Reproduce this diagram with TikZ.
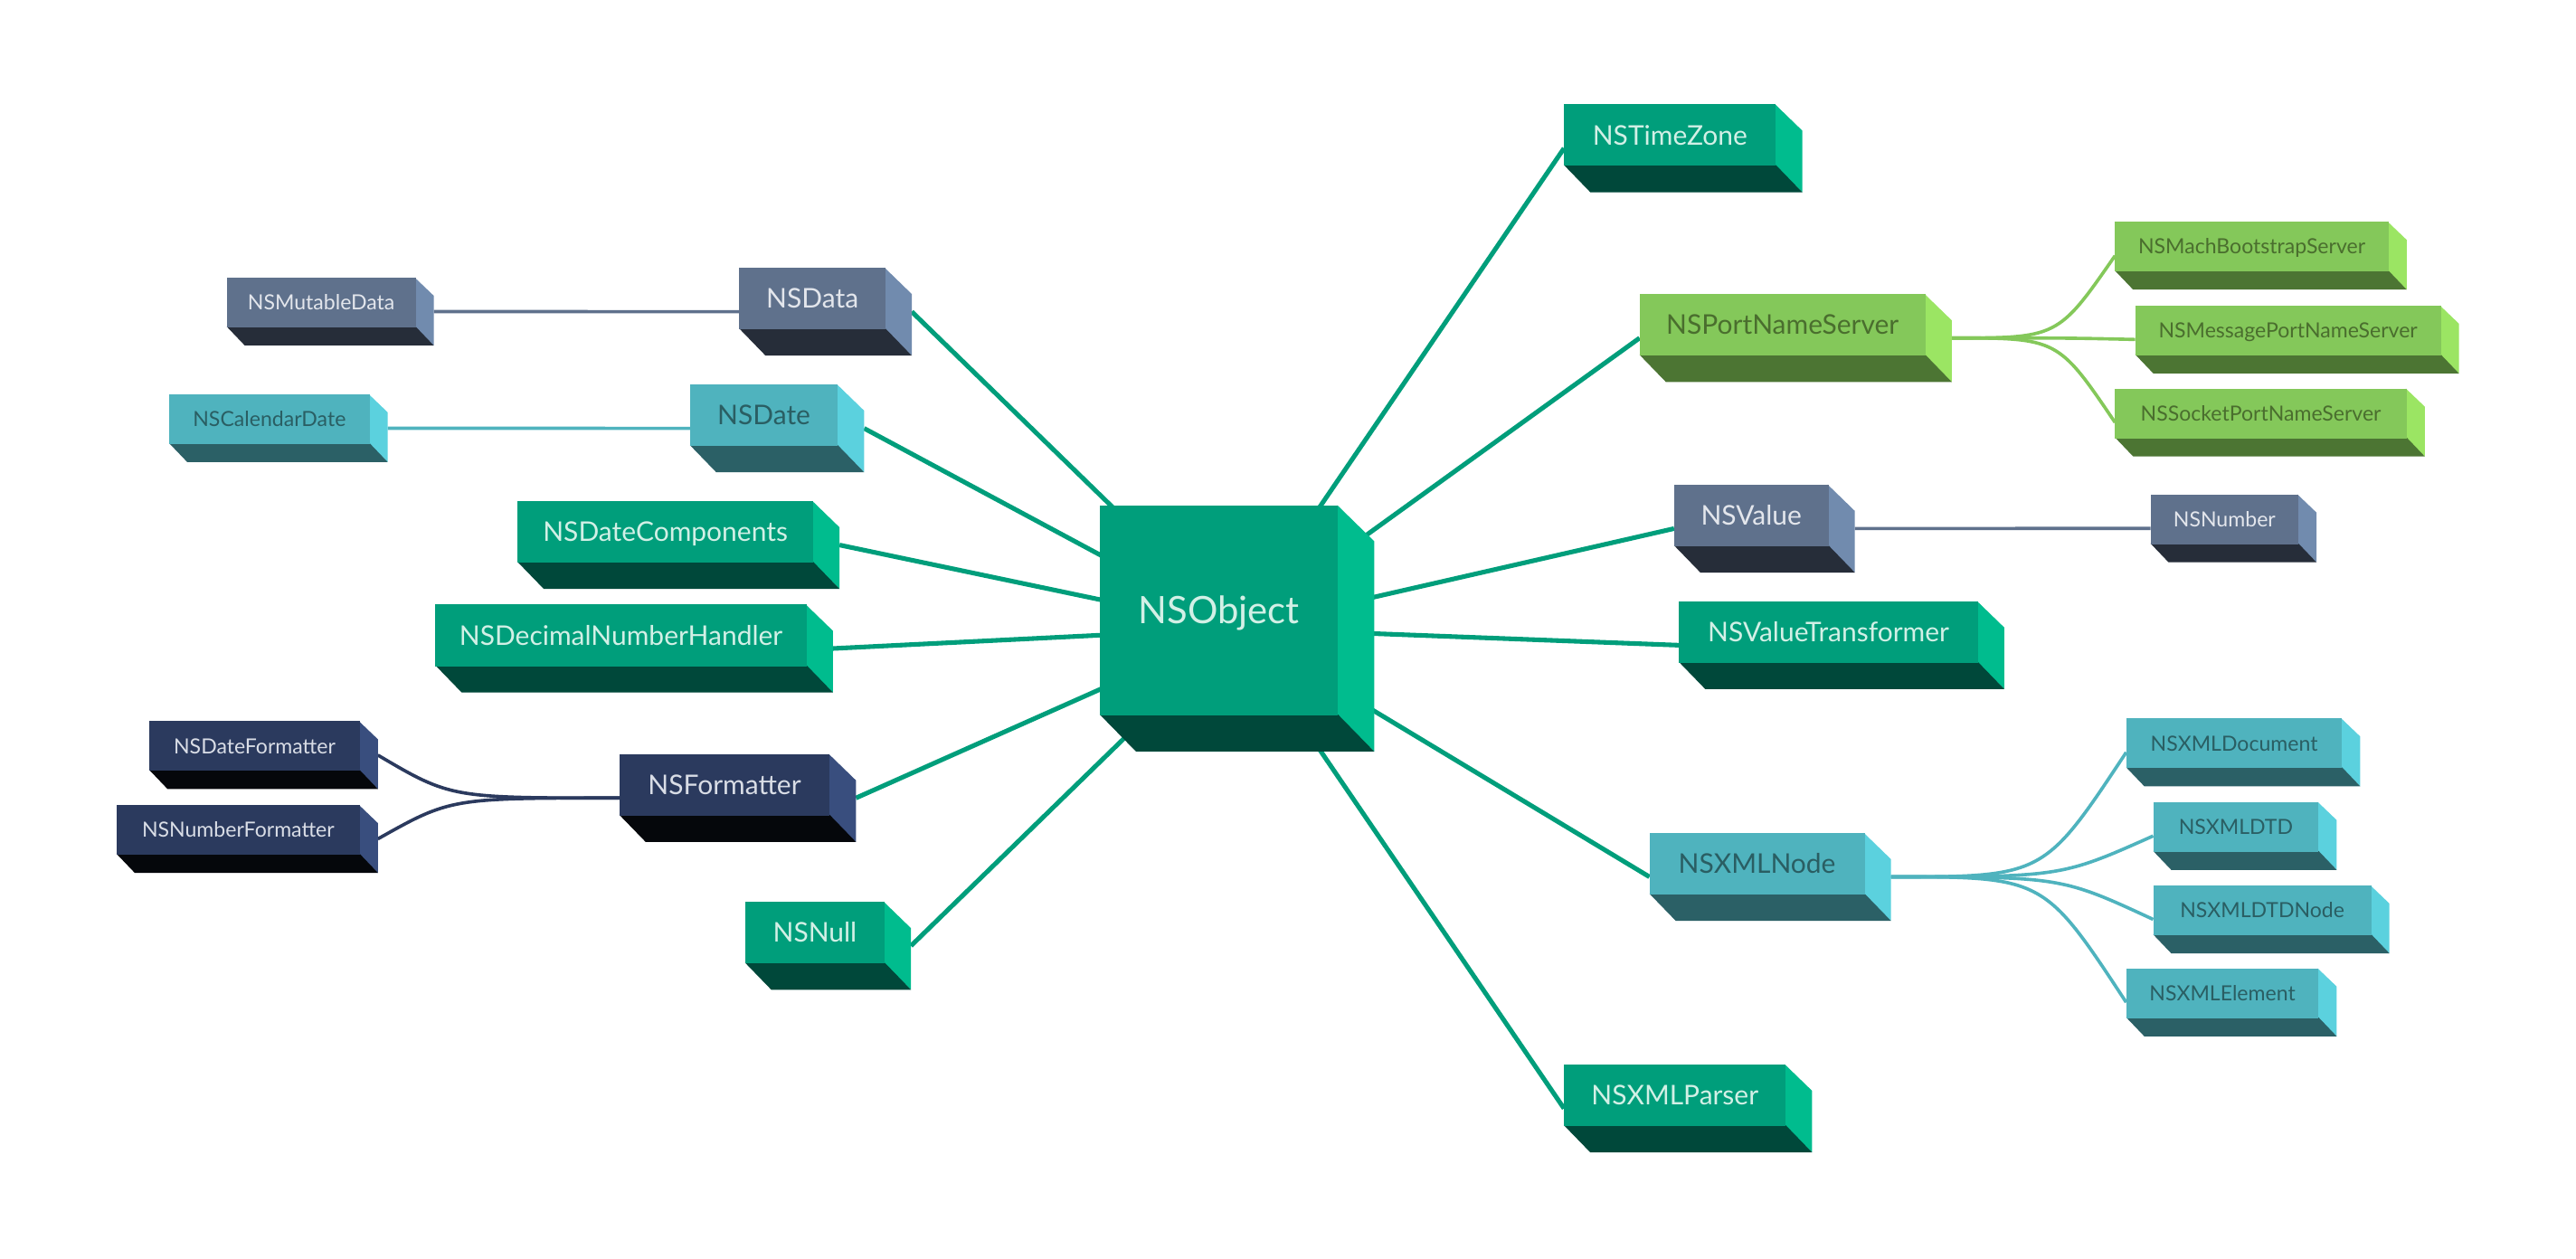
\documentclass[tikz,border=0pt]{standalone}
\usepackage{fontspec}
\setmainfont{Lato}
\usepackage{tikz}
\usetikzlibrary{calc,backgrounds}

\definecolor{tealfront}{HTML}{009E7B}
\definecolor{tealside}{HTML}{00BC8E}
\definecolor{tealbase}{HTML}{00483A}
\definecolor{tealtext}{HTML}{D2F0E6}
\definecolor{greenfront}{HTML}{84C85A}
\definecolor{greenside}{HTML}{9BE563}
\definecolor{greenbase}{HTML}{4C7533}
\definecolor{greentext}{HTML}{4A6E2E}
\definecolor{slatefront}{HTML}{5F718C}
\definecolor{slateside}{HTML}{718BAE}
\definecolor{slatebase}{HTML}{262D39}
\definecolor{slatetext}{HTML}{E3E6EC}
\definecolor{cyanfront}{HTML}{4FB3BE}
\definecolor{cyanside}{HTML}{5BD1DE}
\definecolor{cyanbase}{HTML}{2B6066}
\definecolor{cyantext}{HTML}{2A5E63}
\definecolor{navyfront}{HTML}{2B3A5E}
\definecolor{navyside}{HTML}{394E7E}
\definecolor{navybase}{HTML}{05070B}
\definecolor{navytext}{HTML}{D9DDE6}

\begin{document}
\begin{tikzpicture}[x=1pt, y=-1pt,
    cube/.style 2 args={anchor=north west, inner sep=0pt, outer sep=0pt,
      fill=#1front, text=#1text, text depth=0pt,
      append after command={\pgfextra{
        \fill[#1side] ([xshift=-0.5pt]\tikzlastnode.north east) -- ([shift={(#2,-#2)}]\tikzlastnode.north east)
          -- ([shift={(#2,-#2)}]\tikzlastnode.south east) -- ([xshift=-0.5pt]\tikzlastnode.south east) -- cycle;
        \fill[#1base] ([yshift=0.5pt]\tikzlastnode.south west) -- ([shift={(#2,-#2)}]\tikzlastnode.south west)
          -- ([shift={(#2,-#2)}]\tikzlastnode.south east) -- ([yshift=0.5pt]\tikzlastnode.south east) -- cycle;
      }}},
    classbox/.style={cube={#1}{16pt}, minimum height=37.5pt, text height=11.8pt, font=\fontsize{16.5}{18}\selectfont},
    leafbox/.style={cube={#1}{11pt}, minimum height=30.3pt, text height=9.1pt, font=\fontsize{12.7}{14}\selectfont},
    hubline/.style={draw=tealfront, line width=2.8pt},
    subline/.style={draw=#1front, line width=2pt}]
    \useasboundingbox (0,0) rectangle (1568,766);

    \node[cube={teal}{22pt}, minimum width=145pt, minimum height=128pt, text height=16.5pt, font=\fontsize{23}{25}\selectfont] (obj) at (669.5,307.5) {NSObject};

    % right hand side
    \node[classbox=teal, minimum width=129pt] (timezone) at (952,63.5) {NSTimeZone};
    \node[classbox=green, minimum width=174pt] (portname) at (998,179) {NSPortNameServer};
    \node[classbox=slate, minimum width=94pt] (value) at (1019,295) {NSValue};
    \node[classbox=teal, minimum width=182pt] (transformer) at (1022,366) {NSValueTransformer};
    \node[classbox=cyan, minimum width=131pt] (xmlnode) at (1004,507) {NSXMLNode};
    \node[classbox=teal, minimum width=135pt] (parser) at (952,648) {NSXMLParser};

    \node[leafbox=green, minimum width=166.5pt] (bootstrap) at (1287.4,135) {NSMachBootstrapServer};
    \node[leafbox=green, minimum width=186pt] (messageport) at (1299.7,186) {NSMessagePortNameServer};
    \node[leafbox=green, minimum width=177.5pt] (socketport) at (1287.4,236.5) {NSSocketPortNameServer};
    \node[leafbox=slate, minimum width=90pt] (number) at (1309,301) {NSNumber};
    \node[leafbox=cyan, minimum width=131.4pt] (xmldocument) at (1294.2,437.3) {NSXMLDocument};
    \node[leafbox=cyan, minimum width=100.7pt] (xmldtd) at (1310.6,488.2) {NSXMLDTD};
    \node[leafbox=cyan, minimum width=132.8pt] (xmldtdnode) at (1310.6,539) {NSXMLDTDNode};
    \node[leafbox=cyan, minimum width=117.1pt] (xmlelement) at (1294.2,589.5) {NSXMLElement};

    % left hand side
    \node[classbox=slate, minimum width=89pt] (data) at (450,163) {NSData};
    \node[classbox=cyan, minimum width=90pt] (date) at (420,234) {NSDate};
    \node[classbox=teal, minimum width=180pt] (components) at (315,305) {NSDateComponents};
    \node[classbox=teal, minimum width=226pt] (decimal) at (265,368) {NSDecimalNumberHandler};
    \node[classbox=navy, minimum width=128pt] (formatter) at (377,459) {NSFormatter};
    \node[classbox=teal, minimum width=85pt] (null) at (453.5,549) {NSNull};

    \node[leafbox=slate, minimum width=115pt] (mutabledata) at (138,169) {NSMutableData};
    \node[leafbox=cyan, minimum width=122pt] (calendardate) at (103,240) {NSCalendarDate};
    \node[leafbox=navy, minimum width=128pt] (dateformatter) at (91,439) {NSDateFormatter};
    \node[leafbox=navy, minimum width=148pt] (numberformatter) at (71,490) {NSNumberFormatter};

    \begin{scope}[on background layer]
    \fill[white] (0,0) rectangle (1568,766);
    \coordinate (hub) at ([shift={(11pt,-11pt)}]obj.center);
    \path[hubline]
        (hub) edge ([yshift=-8pt]timezone.west)
        (hub) edge ([yshift=-8pt]portname.west)
        (hub) edge ([yshift=-8pt]value.west)
        (hub) edge ([yshift=-8pt]transformer.west)
        (hub) edge ([yshift=-8pt]xmlnode.west)
        (hub) edge ([yshift=-8pt]parser.west)
        (hub) edge ([shift={(16pt,-8pt)}]data.east)
        (hub) edge ([shift={(16pt,-8pt)}]date.east)
        (hub) edge ([shift={(16pt,-8pt)}]components.east)
        (hub) edge ([shift={(16pt,-8pt)}]decimal.east)
        (hub) edge ([shift={(16pt,-8pt)}]formatter.east)
        (hub) edge ([shift={(16pt,-8pt)}]null.east)
        ;

    \draw[subline=slate] ([shift={(11pt,-5.5pt)}]mutabledata.east) -- ([yshift=-8pt]data.west);
    \draw[subline=cyan] ([shift={(11pt,-5.5pt)}]calendardate.east) -- ([yshift=-8pt]date.west);
    \draw[subline=slate] ([shift={(16pt,-8pt)}]value.east) -- ([yshift=-5.5pt]number.west);

    \coordinate (pns) at ([shift={(16pt,-8pt)}]portname.east);
    \foreach \leaf in {bootstrap, messageport, socketport}
        \draw[subline=green] (pns) .. controls ($(pns)!0.65!(pns -| \leaf.west)$) .. ([yshift=-5.5pt]\leaf.west);

    \coordinate (xn) at ([shift={(16pt,-8pt)}]xmlnode.east);
    \foreach \leaf in {xmldocument, xmldtd, xmldtdnode, xmlelement}
        \draw[subline=cyan] (xn) .. controls ($(xn)!0.65!(xn -| \leaf.west)$) .. ([yshift=-5.5pt]\leaf.west);

    \coordinate (fm) at ([yshift=-8pt]formatter.west);
    \foreach \leaf in {dateformatter, numberformatter}
        \draw[subline=navy] (fm) .. controls ($(fm)!0.65!(fm -| \leaf.east)$) .. ([shift={(11pt,-5.5pt)}]\leaf.east);
    \end{scope}
\end{tikzpicture}
\end{document}
